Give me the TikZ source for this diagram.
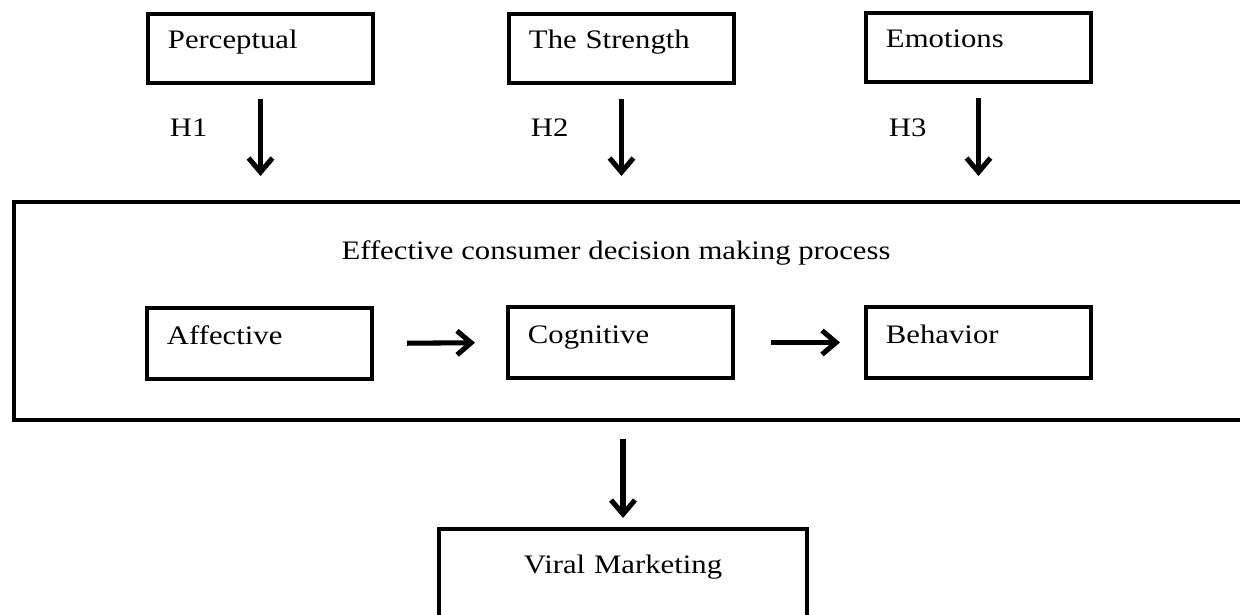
\documentclass[tikz,border=0pt]{standalone}
\usepackage{fontspec}
\setmainfont{Liberation Serif}[FakeStretch=1.15]
\usetikzlibrary{arrows.meta, positioning}

\begin{document}
\begin{tikzpicture}[
    x=0.025cm, y=-0.025cm,
    every node/.style={font=\fontsize{19}{22}\selectfont},
    bx/.style={rectangle, draw, line width=2.8pt, anchor=north west,
               inner xsep=0.5cm, inner ysep=0pt, text width=4.625cm, align=left,
               text height=0.875cm, text depth=0.85cm},
    ibx/.style={bx, text height=0.925cm},
    arr/.style={-{Straight Barb[length=10pt, width=17pt]}, line width=3.6pt}
]
    \clip (0,0) rectangle (1240,615);
    % top factors
    \node[bx] (perc) at (146,12) {Perceptual};
    \node[bx] (str)  at (507,12) {The Strength};
    \node[bx] (emo)  at (864,11) {Emotions};
    \node[anchor=base west] (h1) at (165,137) {H1};
    \node[anchor=base west] (h2) at (526,137) {H2};
    \node[anchor=base west] (h3) at (884,137) {H3};
    % decision process
    \node[rectangle, draw, line width=2.8pt, anchor=north west, inner sep=0pt,
          minimum width=30.825cm, minimum height=5.45cm] (proc) at (12,200) {};
    \node[anchor=base] (ttl) at (616,260) {Effective consumer decision making process};
    \node[ibx] (aff) at (145,306) {Affective};
    \node[ibx] (cog) at (506,305) {Cognitive};
    \node[ibx] (beh) at (864,305) {Behavior};
    % outcome
    \node[rectangle, draw, line width=2.8pt, anchor=north west, inner xsep=0.5cm,
          inner ysep=0pt, text width=8.2cm, align=center,
          text height=1.125cm, text depth=1.875cm] (vir) at (437,527) {Viral Marketing};
    % arrows
    \draw[arr, shorten <=0.35cm, shorten >=0.6cm] (perc.south) -- (perc.south |- proc.north);
    \draw[arr, shorten <=0.35cm, shorten >=0.6cm] (str.south) -- (str.south |- proc.north);
    \draw[arr, shorten <=0.35cm, shorten >=0.6cm] (emo.south) -- (emo.south |- proc.north);
    \draw[arr, shorten <=0.825cm, shorten >=0.775cm] (aff.east) -- (cog.west);
    \draw[arr, shorten <=0.9cm, shorten >=0.6cm] (cog.east) -- (beh.west);
    \draw[arr, shorten <=0.425cm, shorten >=0.225cm] (vir.north |- proc.south) -- (vir.north);
\end{tikzpicture}
\end{document}
